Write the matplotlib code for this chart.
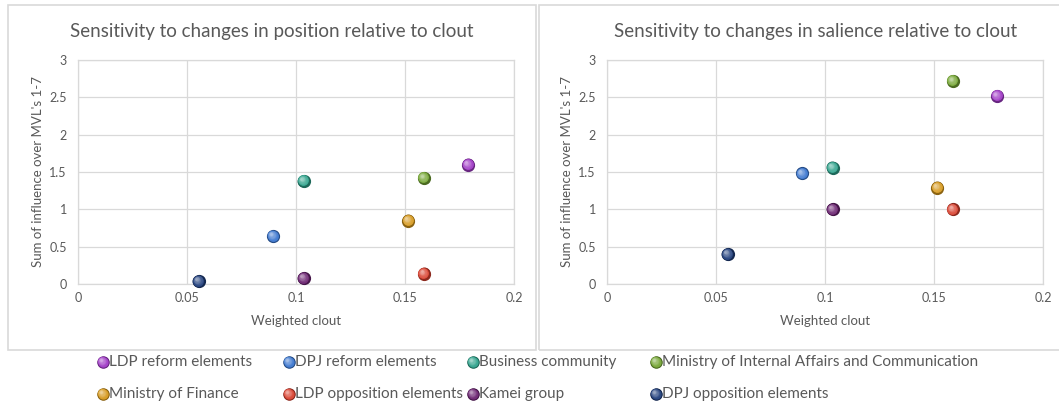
import numpy as np
import matplotlib
matplotlib.use("Agg")
import matplotlib.pyplot as plt
import matplotlib.transforms as mtransforms
from matplotlib.colors import to_rgb
from matplotlib.patches import Rectangle

plt.rcParams['font.family'] = ['Lato', 'DejaVu Sans']

groups = ["LDP reform elements", "DPJ reform elements", "Business community",
          "Ministry of Internal Affairs and Communication", "Ministry of Finance",
          "LDP opposition elements", "Kamei group", "DPJ opposition elements"]
colors = ["#A03AC6", "#3B76CF", "#2EA28B", "#74A533",
          "#D6981C", "#D9412F", "#6A2270", "#1F3E7B"]

clout = [0.179, 0.0895, 0.1035, 0.1587, 0.1515, 0.1587, 0.1035, 0.0553]
position = [1.60, 0.64, 1.38, 1.42, 0.85, 0.14, 0.08, 0.04]
salience = [2.52, 1.48, 1.56, 2.72, 1.29, 1.00, 1.00, 0.40]

titles = ["Sensitivity to changes in position relative to clout",
          "Sensitivity to changes in salience relative to clout"]

gray = "#595959"
grid = "#D9D9D9"


def blend(c, other, t):
    c = np.array(to_rgb(c))
    return tuple(c * (1 - t) + np.array(other) * t)


def sphere(ax, x, y, color, size=9.5):
    # layered circles for a shaded ball look
    n = 10
    for k in range(n):
        f = k / (n - 1)
        ms = size * (1 - 0.8 * f)
        off = mtransforms.offset_copy(ax.transData, fig=ax.figure,
                                      x=-1.6 * f, y=1.6 * f, units='points')
        if f < 0.15:
            col = blend(color, (0, 0, 0), 0.35)
        else:
            col = blend(color, (1, 1, 1), 0.55 * f ** 1.5)
        ax.plot(x, y, 'o', ms=ms, color=col, mec='none', transform=off,
                zorder=3 + k, clip_on=False)


fig = plt.figure(figsize=(10.59, 4.08), dpi=100)

# panel borders
fig.add_artist(Rectangle((8 / 1059, 1 - 350 / 408), 528 / 1059, 345 / 408,
                         transform=fig.transFigure, fill=False, ec=grid, lw=1.2))
fig.add_artist(Rectangle((539 / 1059, 1 - 350 / 408), 525 / 1059, 345 / 408,
                         transform=fig.transFigure, fill=False, ec=grid, lw=1.2))

lefts = [78, 607]
title_x = [272, 816]
for i, yvals in enumerate([position, salience]):
    ax = fig.add_axes([lefts[i] / 1059, 1 - 284 / 408, 436 / 1059, 224 / 408])
    ax.set_xlim(0, 0.2)
    ax.set_ylim(0, 3)
    ax.set_xticks([0, 0.05, 0.1, 0.15, 0.2])
    ax.set_xticklabels(["0", "0.05", "0.1", "0.15", "0.2"])
    ax.set_yticks([0, 0.5, 1, 1.5, 2, 2.5, 3])
    ax.set_yticklabels(["0", "0.5", "1", "1.5", "2", "2.5", "3"])
    ax.grid(True, color=grid, lw=0.9)
    ax.set_axisbelow(True)
    for s in ax.spines.values():
        s.set_color(grid)
        s.set_linewidth(0.9)
    ax.tick_params(length=0, labelsize=9, labelcolor=gray, pad=8)
    ax.tick_params(axis='x', pad=6)
    ax.set_xlabel("Weighted clout", color=gray, fontsize=9.5, labelpad=8)
    ax.set_ylabel("Sum of influence over MVL's 1-7", color=gray, fontsize=9.5,
                  labelpad=4)
    for x, y, c in zip(clout, yvals, colors):
        sphere(ax, x, y, c)
    fig.text(title_x[i] / 1059, 1 - 31 / 408, titles[i], ha='center',
             va='center', color=gray, fontsize=13.5)

# legend drawn manually
lax = fig.add_axes([0, 0, 1, 1])
lax.set_xlim(0, 1059)
lax.set_ylim(408, 0)
lax.axis('off')
leg_x = [103, 289, 473, 656, 103, 289, 473, 656]
leg_y = [362, 362, 362, 362, 394, 394, 394, 394]
for name, c, lx, ly in zip(groups, colors, leg_x, leg_y):
    sphere(lax, lx, ly, c, size=9)
    lax.text(lx + 6, ly, name, ha='left', va='center', color=gray,
             fontsize=11)

fig.savefig("out.png", dpi=100)
